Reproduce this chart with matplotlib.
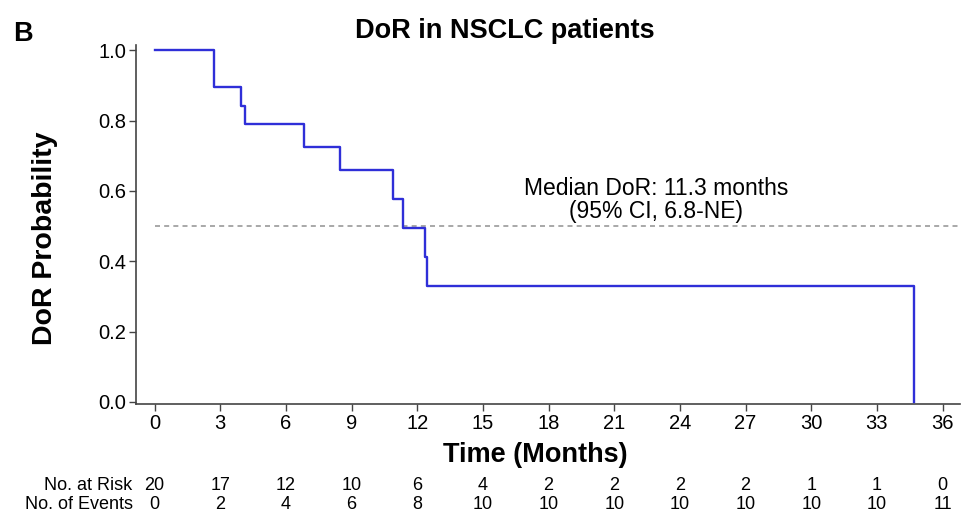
import matplotlib
matplotlib.use("Agg")
import matplotlib.pyplot as plt
import matplotlib.transforms as mtransforms

plt.rcParams["font.family"] = ["Liberation Sans", "DejaVu Sans"]

# Kaplan-Meier step curve
times = [0, 2.71, 3.95, 4.13, 6.82, 8.47, 10.88, 11.34, 12.35, 12.44, 34.7]
surv = [1.0, 0.895, 0.842, 0.790, 0.724, 0.658, 0.576, 0.494, 0.412, 0.329, 0.0]

# risk table
risk_times = [0, 3, 6, 9, 12, 15, 18, 21, 24, 27, 30, 33, 36]
at_risk = [20, 17, 12, 10, 6, 4, 2, 2, 2, 2, 1, 1, 0]
events = [0, 2, 4, 6, 8, 10, 10, 10, 10, 10, 10, 10, 11]

x_ticks = list(range(0, 37, 3))
y_ticks = [0.0, 0.2, 0.4, 0.6, 0.8, 1.0]
median = 0.5

fig = plt.figure(figsize=(9.66, 5.22), dpi=100)
ax = fig.add_axes([0.1408, 0.226, 0.853, 0.688])

ax.step(times, surv, where="post", color="#2f2fd8", lw=1.7, zorder=3)
ax.plot([0, 36.8], [median, median], color="#9a9a9a", lw=1.2,
        ls=(0, (3, 2.5)), zorder=2)

ax.text(22.9, 0.574, "Median DoR: 11.3 months\n(95% CI, 6.8-NE)",
        ha="center", va="center", fontsize=16.5, linespacing=0.95)

ax.set_xlim(-0.85, 36.8)
ax.set_ylim(-0.006, 1.015)
ax.set_xticks(x_ticks)
ax.set_yticks(y_ticks)
ax.set_yticklabels([f"{v:.1f}" for v in y_ticks])
ax.tick_params(axis="both", labelsize=14.5, length=5, width=1, color="#444444", pad=2)

for s in ["top", "right"]:
    ax.spines[s].set_visible(False)
for s in ["left", "bottom"]:
    ax.spines[s].set_color("#444444")
    ax.spines[s].set_linewidth(1.2)

# title and axis labels placed by hand, they sit off-centre in the original
fig.text(0.523, 0.927, "DoR in NSCLC patients", fontsize=19.5,
         fontweight="bold", ha="center", va="baseline")
fig.text(0.0466, 0.544, "DoR Probability", fontsize=20.5, fontweight="bold",
         rotation=90, ha="center", va="center")
fig.text(0.554, 0.115, "Time (Months)", fontsize=19.5, fontweight="bold",
         ha="center", va="baseline")

fig.text(0.014, 0.921, "B", fontsize=19.5, fontweight="bold", va="baseline")

# risk table under the axis
trans = mtransforms.blended_transform_factory(ax.transData, ax.transAxes)
ax.text(-0.004, -0.228, "No. at Risk", transform=ax.transAxes,
        ha="right", va="center", fontsize=13)
ax.text(-0.004, -0.281, "No. of Events", transform=ax.transAxes,
        ha="right", va="center", fontsize=13)
for t, r, e in zip(risk_times, at_risk, events):
    ax.text(t, -0.228, str(r), transform=trans, ha="center", va="center", fontsize=13)
    ax.text(t, -0.281, str(e), transform=trans, ha="center", va="center", fontsize=13)

fig.savefig("out.png", dpi=100)
